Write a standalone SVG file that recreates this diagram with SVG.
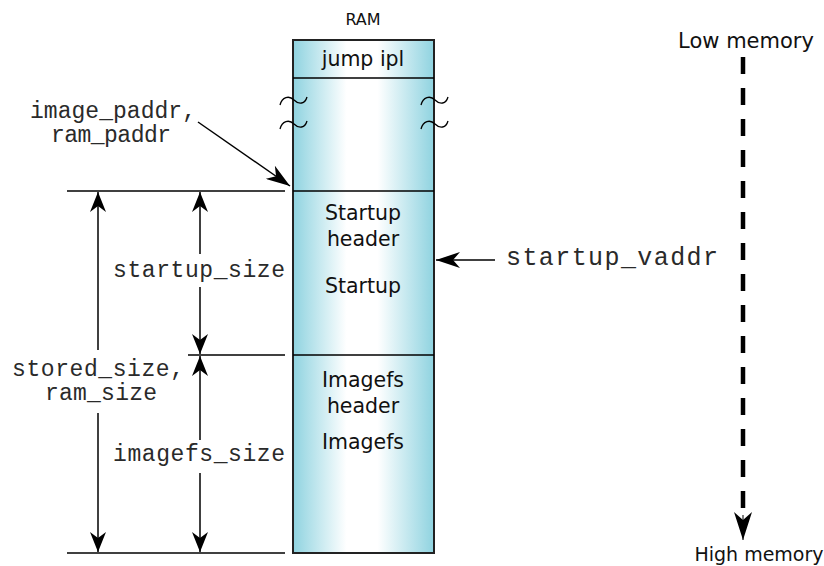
<svg xmlns="http://www.w3.org/2000/svg" width="824" height="566" viewBox="0 0 824 566">
<defs>
<linearGradient id="ramgrad" x1="0" y1="0" x2="1" y2="0">
<stop offset="0" stop-color="#8fd3e0"/>
<stop offset="0.38" stop-color="#ffffff"/>
<stop offset="0.6" stop-color="#ffffff"/>
<stop offset="1" stop-color="#8fd3e0"/>
</linearGradient>
<marker id="ah" viewBox="0 0 20 16" refX="20" refY="8" markerWidth="20" markerHeight="16" markerUnits="userSpaceOnUse" orient="auto">
<path d="M0,0 L20,8 L0,16 L6,8 Z" fill="#000"/>
</marker>
<marker id="ahbig" viewBox="0 0 24 16" refX="24" refY="8" markerWidth="24" markerHeight="16" markerUnits="userSpaceOnUse" orient="auto">
<path d="M0,0 L24,8 L0,16 L7,8 Z" fill="#000"/>
</marker>
<marker id="ahmem" viewBox="0 0 28 18" refX="28" refY="9" markerWidth="28" markerHeight="18" markerUnits="userSpaceOnUse" orient="auto">
<path d="M0,0 L28,9 L0,18 L8,9 Z" fill="#000"/>
</marker>
</defs>
<style>
.sans{font-family:"DejaVu Sans",Verdana,sans-serif;fill:#111;}
.box-t{font-size:20.5px;}
.mono{font-family:"Liberation Mono","Courier New",monospace;font-size:23px;fill:#2a2a2a;}
.ln{stroke:#000;stroke-width:1.5;fill:none;}
.box{stroke:#222;stroke-width:2;}
.wave{stroke:#000;stroke-width:1.3;fill:none;}
</style>
<g id="ram">
<rect class="box" x="293" y="40" width="141" height="513" fill="url(#ramgrad)"/>
<line class="ln" x1="293" y1="78" x2="434" y2="78"/>
<line class="ln" x1="293" y1="191" x2="434" y2="191"/>
<line class="ln" x1="293" y1="355" x2="434" y2="355"/>
<text class="sans" x="363" y="25" text-anchor="middle" font-size="16">RAM</text>
<text class="sans box-t" x="363" y="66" text-anchor="middle">jump ipl</text>
<text class="sans box-t" x="363" y="220" text-anchor="middle">Startup</text>
<text class="sans box-t" x="363" y="246" text-anchor="middle">header</text>
<text class="sans box-t" x="363" y="293" text-anchor="middle">Startup</text>
<text class="sans box-t" x="363" y="387" text-anchor="middle">Imagefs</text>
<text class="sans box-t" x="363" y="413" text-anchor="middle">header</text>
<text class="sans box-t" x="363" y="449" text-anchor="middle">Imagefs</text>
</g>
<g id="breaks">
<path class="wave" d="M280,105 C282,97 289,95 294,100 C299,105 305,104 307,97"/>
<path class="wave" d="M280,129 C282,121 289,119 294,124 C299,129 305,128 307,121"/>
<path class="wave" d="M421,105 C423,97 430,95 435,100 C440,105 446,104 448,97"/>
<path class="wave" d="M421,129 C423,121 430,119 435,124 C440,129 446,128 448,121"/>
</g>
<g id="labels">
<text class="mono" x="30" y="118" textLength="166" lengthAdjust="spacing">image_paddr,</text>
<text class="mono" x="51" y="142" textLength="120" lengthAdjust="spacing">ram_paddr</text>
<text class="mono" x="113" y="277" textLength="172" lengthAdjust="spacing">startup_size</text>
<text class="mono" x="12" y="376" textLength="172" lengthAdjust="spacing">stored_size,</text>
<text class="mono" x="45" y="400" textLength="112" lengthAdjust="spacing">ram_size</text>
<text class="mono" x="113" y="461" textLength="172" lengthAdjust="spacing">imagefs_size</text>
<text class="mono" x="506" y="265" style="font-size:25px" textLength="212" lengthAdjust="spacing">startup_vaddr</text>
</g>
<g id="memory">
<text class="sans" x="746" y="48" text-anchor="middle" font-size="21">Low memory</text>
<text class="sans" x="759" y="561" text-anchor="middle" font-size="19">High memory</text>
</g>
<g id="connectors">
<line class="ln" x1="67" y1="191" x2="285" y2="191"/>
<line class="ln" x1="188" y1="355" x2="285" y2="355"/>
<line class="ln" x1="67" y1="553" x2="285" y2="553"/>
<line class="ln" x1="98" y1="350" x2="98" y2="192" marker-end="url(#ah)"/>
<line class="ln" x1="98" y1="413" x2="98" y2="552" marker-end="url(#ah)"/>
<line class="ln" x1="200" y1="254" x2="200" y2="192" marker-end="url(#ah)"/>
<line class="ln" x1="200" y1="287" x2="200" y2="354" marker-end="url(#ah)"/>
<line class="ln" x1="200" y1="440" x2="200" y2="356" marker-end="url(#ah)"/>
<line class="ln" x1="200" y1="473" x2="200" y2="552" marker-end="url(#ah)"/>
<line class="ln" x1="198" y1="122" x2="290" y2="186" marker-end="url(#ahbig)"/>
<line class="ln" x1="495" y1="260" x2="436" y2="260" marker-end="url(#ahbig)"/>
<line x1="743" y1="57" x2="743" y2="522" stroke="#000" stroke-width="4.5" stroke-dasharray="17,14"/>
<line x1="743" y1="515" x2="743" y2="540" stroke="#000" stroke-width="1" marker-end="url(#ahmem)"/>
</g>
</svg>
